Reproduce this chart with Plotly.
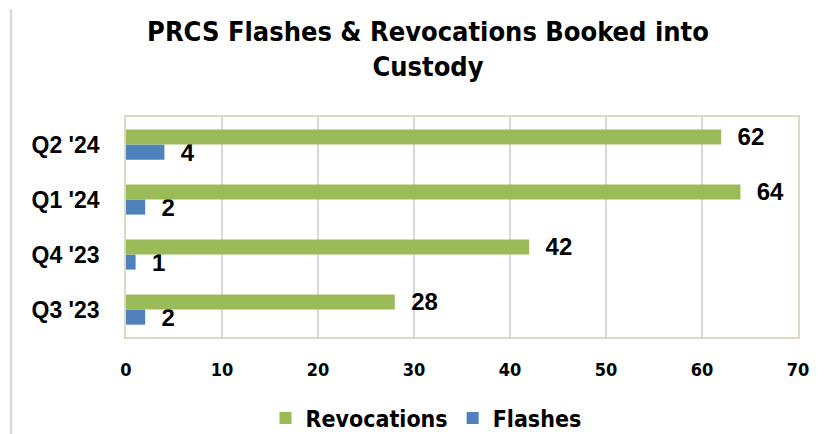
import plotly.graph_objects as go

categories = ["Q3 '23", "Q4 '23", "Q1 '24", "Q2 '24"]
revocations = [28, 42, 64, 62]
flashes = [2, 1, 2, 4]
x_ticks = [0, 10, 20, 30, 40, 50, 60, 70]

GREEN = "#9bbb59"
BLUE = "#4f81bd"
NARROW = "Liberation Sans Narrow, DejaVu Sans Condensed, Arial Narrow, sans-serif"
LABEL_FONT = dict(family="Liberation Sans, Arial, sans-serif", size=24, color="black", weight="bold")

fig = go.Figure()
fig.add_trace(go.Bar(
    y=categories, x=flashes, name="Flashes", orientation="h",
    marker=dict(color=BLUE, line=dict(width=0)),
    text=flashes, texttemplate="  %{x}", textposition="outside",
    textfont=LABEL_FONT, cliponaxis=False, constraintext="none",
))
fig.add_trace(go.Bar(
    y=categories, x=revocations, name="Revocations", orientation="h",
    marker=dict(color=GREEN, line=dict(width=0)),
    text=revocations, texttemplate="  %{x}", textposition="outside",
    textfont=LABEL_FONT, cliponaxis=False, constraintext="none",
))

fig.update_layout(
    width=828, height=434,
    paper_bgcolor="white", plot_bgcolor="white",
    margin=dict(l=126, r=30, t=117, b=97),
    barmode="group", bargap=0.45, bargroupgap=0,
    title=dict(
        text="PRCS Flashes & Revocations Booked into<br>Custody",
        x=428 / 828, xanchor="center", y=1 - 41 / 434, yanchor="middle",
        font=dict(family=NARROW, size=27, color="black", weight="bold"),
    ),
    legend=dict(
        orientation="h", traceorder="reversed",
        x=426 / 828, xref="container", xanchor="center",
        y=1 - 418 / 434, yref="container", yanchor="middle",
        font=dict(family=NARROW, size=23, color="black", weight="bold"),
        itemwidth=30,
    ),
    showlegend=True,
)

fig.update_xaxes(
    range=[0, 70], tickvals=x_ticks, ticktext=[str(v) for v in x_ticks],
    showgrid=True, gridcolor="#d9d9d9", gridwidth=1.5,
    showline=True, linecolor="#ddd9c3", linewidth=1.5, mirror=True,
    zeroline=False, ticks="", ticklabelstandoff=16,
    tickfont=dict(family=NARROW, size=18, color="black", weight="bold"),
)
fig.update_yaxes(
    showgrid=False, showline=True, linecolor="#ddd9c3", linewidth=1.5, mirror=True,
    ticks="", ticklabelstandoff=20,
    tickfont=dict(family="Liberation Sans, Arial, sans-serif", size=23, color="black", weight="bold"),
)

fig.add_shape(type="line", xref="paper", yref="paper",
              x0=(11 - 126) / 672, x1=(11 - 126) / 672, y0=-97 / 220, y1=1 + 108 / 220,
              line=dict(color="#d9d9d9", width=2.5))

fig.write_html("out.html", config={"displayModeBar": False},
               post_script="document.body.style.margin='0';")
